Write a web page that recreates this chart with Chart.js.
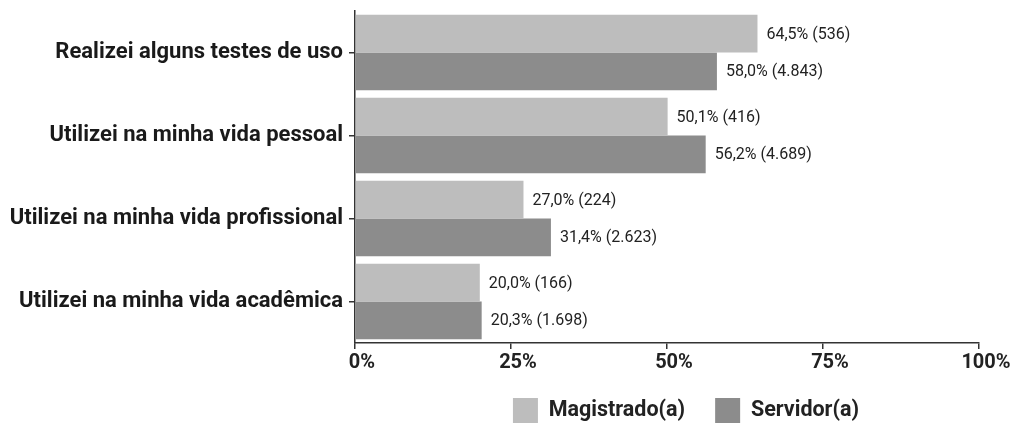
<!DOCTYPE html>
<html>
<head>
<meta charset="utf-8">
<script src="https://cdn.jsdelivr.net/npm/chart.js@4/dist/chart.umd.min.js"></script>
<style>
  html, body { margin: 0; padding: 0; background: #fff; }
  #caixa { width: 1013px; height: 424px; }
</style>
</head>
<body>
<div id="caixa"><canvas id="grafico"></canvas></div>
<script>
const categorias = [
  'Realizei alguns testes de uso',
  'Utilizei na minha vida pessoal',
  'Utilizei na minha vida profissional',
  'Utilizei na minha vida acadêmica'
];
const magistradoPct = [64.5, 50.1, 27.0, 20.0];
const magistradoQtd = [536, 416, 224, 166];
const servidorPct = [58.0, 56.2, 31.4, 20.3];
const servidorQtd = [4843, 4689, 2623, 1698];
const ticksX = [0, 25, 50, 75, 100];

const fonte = 'Roboto, "Noto Sans", sans-serif';

function formataPct(v) {
  return v.toFixed(1).replace('.', ',') + '%';
}

function formataQtd(n) {
  return String(n).replace(/\B(?=(\d{3})+(?!\d))/g, '.');
}

// rótulos ao lado de cada barra, ex.: 64,5% (536)
const rotulosBarras = {
  id: 'rotulosBarras',
  afterDatasetsDraw(chart) {
    const ctx = chart.ctx;
    const qtds = [magistradoQtd, servidorQtd];
    ctx.save();
    ctx.font = '16px ' + fonte;
    ctx.fillStyle = '#222';
    ctx.textAlign = 'left';
    ctx.textBaseline = 'middle';
    chart.data.datasets.forEach((ds, i) => {
      chart.getDatasetMeta(i).data.forEach((barra, j) => {
        const texto = formataPct(ds.data[j]) + ' (' + formataQtd(qtds[i][j]) + ')';
        ctx.fillText(texto, barra.x + 9, barra.y + 1);
      });
    });
    ctx.restore();
  }
};

// empurra a legenda para a posição da imagem original
const ajusteLegenda = {
  id: 'ajusteLegenda',
  afterLayout(chart) {
    const leg = chart.legend;
    leg.top -= 15;
    leg.left += 19; leg.right += 19;
  }
};

new Chart(document.getElementById('grafico'), {
  type: 'bar',
  data: {
    labels: categorias,
    datasets: [{
      label: 'Magistrado(a)',
      data: magistradoPct,
      backgroundColor: '#bdbdbd',
      categoryPercentage: 0.91,
      barPercentage: 1.0
    }, {
      label: 'Servidor(a)',
      data: servidorPct,
      backgroundColor: '#8c8c8c',
      categoryPercentage: 0.91,
      barPercentage: 1.0
    }]
  },
  options: {
    indexAxis: 'y',
    responsive: true,
    maintainAspectRatio: false,
    animation: false,
    layout: { padding: { top: 11, right: 34, bottom: 0, left: 0 } },
    plugins: {
      tooltip: { enabled: false },
      legend: {
        position: 'bottom',
        fullSize: false,
        maxHeight: 41,
        labels: {
          boxWidth: 25,
          boxHeight: 25,
          padding: 30,
          color: '#222',
          font: { family: fonte, size: 21.5, weight: 'bold' }
        }
      }
    },
    scales: {
      x: {
        min: 0,
        max: 100,
        afterBuildTicks(scale) {
          scale.ticks = ticksX.map(v => ({ value: v }));
        },
        afterFit(scale) { scale.height = 40; },
        grid: { drawOnChartArea: false, drawTicks: true, tickLength: 6, color: '#333', lineWidth: 1.5 },
        border: { color: '#333', width: 1.5 },
        ticks: {
          padding: 2,
          labelOffset: 7,
          color: '#222',
          maxRotation: 0,
          font: { family: fonte, size: 20, weight: 'bold' },
          callback: v => v + '%'
        }
      },
      y: {
        afterFit(scale) {
          scale.width = 355;
          scale.paddingTop = 0;
          scale.paddingBottom = 0;
        },
        grid: { drawOnChartArea: false, drawTicks: true, tickLength: 6, offset: false, color: '#333', lineWidth: 1.5 },
        border: { color: '#333', width: 1.5 },
        ticks: {
          padding: 6,
          color: '#1a1a1a',
          font: { family: fonte, size: 22, weight: 'bold' }
        }
      }
    }
  },
  plugins: [rotulosBarras, ajusteLegenda]
});
</script>
</body>
</html>
